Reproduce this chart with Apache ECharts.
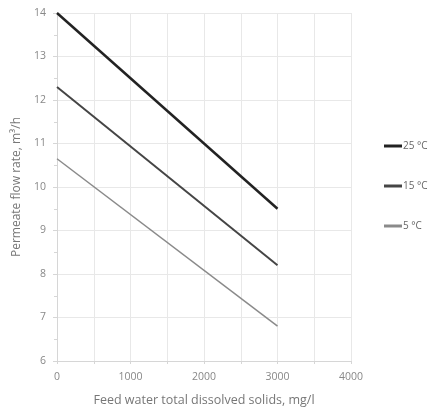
<!DOCTYPE html>
<html><head><meta charset="utf-8">
<script src="https://cdn.jsdelivr.net/npm/echarts@6/dist/echarts.min.js"></script>
<style>html,body{margin:0;padding:0;background:#fff}#c{width:433px;height:412px}</style>
</head><body><div id="c"></div>
<script>
const tds = [0, 3000];
const flow25 = [14.0, 9.5];
const flow15 = [12.3, 8.2];
const flow5 = [10.65, 6.8];
const seriesNames = ['25 °C', '15 °C', '5 °C'];
const xTicks = [0, 1000, 2000, 3000, 4000];
const yTicks = [6, 7, 8, 9, 10, 11, 12, 13, 14];

const font = 'Open Sans';
const chart = echarts.init(document.getElementById('c'));
const mk = (name, vals, color, w) => ({
  name, type: 'line', data: tds.map((x, i) => [x, vals[i]]),
  showSymbol: false, symbol: 'none', lineStyle: {color, width: w}, itemStyle: {color}
});
chart.setOption({
  animation: false,
  grid: {left: 57, right: 82, top: 13, bottom: 49},
  legend: {
    orient: 'vertical', left: 379, top: 134, itemGap: 26,
    itemWidth: 18, itemHeight: 3, icon: 'rect',
    textStyle: {fontFamily: font, fontSize: 10, lineHeight: 14, color: '#666', padding: [0,0,0,-4]},
    data: seriesNames
  },
  xAxis: {
    type: 'value', min: 0, max: 4000, interval: 500,
    name: 'Feed water total dissolved solids, mg/l', nameLocation: 'middle', nameGap: 33,
    nameTextStyle: {fontFamily: font, fontSize: 12.5, color: '#777'},
    axisLine: {lineStyle: {color: '#d6d6d6'}},
    axisTick: {show: true, length: 3, lineStyle: {color: '#d6d6d6'}},
    axisLabel: {fontFamily: font, fontSize: 10.5, color: '#888', margin: 11,
      formatter: v => xTicks.includes(v) ? String(v) : ''},
    splitLine: {lineStyle: {color: '#e8e8e8'}}
  },
  yAxis: {
    type: 'value', min: 6, max: 14, interval: 1,
    name: 'Permeate flow rate, m³/h', nameLocation: 'middle', nameGap: 34,
    nameTextStyle: {fontFamily: font, fontSize: 12, color: '#777'},
    axisLine: {show: true, lineStyle: {color: '#d6d6d6'}},
    axisTick: {show: true, length: 4, lineStyle: {color: '#d6d6d6'}},
    minorTick: {show: true, splitNumber: 2, length: 3, lineStyle: {color: '#d6d6d6'}},
    axisLabel: {fontFamily: font, fontSize: 10.5, color: '#888', margin: 11,
      formatter: v => yTicks.includes(v) ? String(v) : ''},
    splitLine: {lineStyle: {color: '#e8e8e8'}}
  },
  series: [
    mk(seriesNames[0], flow25, '#222222', 2.5),
    mk(seriesNames[1], flow15, '#454545', 2),
    mk(seriesNames[2], flow5, '#8a8a8a', 1.5)
  ]
});
</script></body></html>
